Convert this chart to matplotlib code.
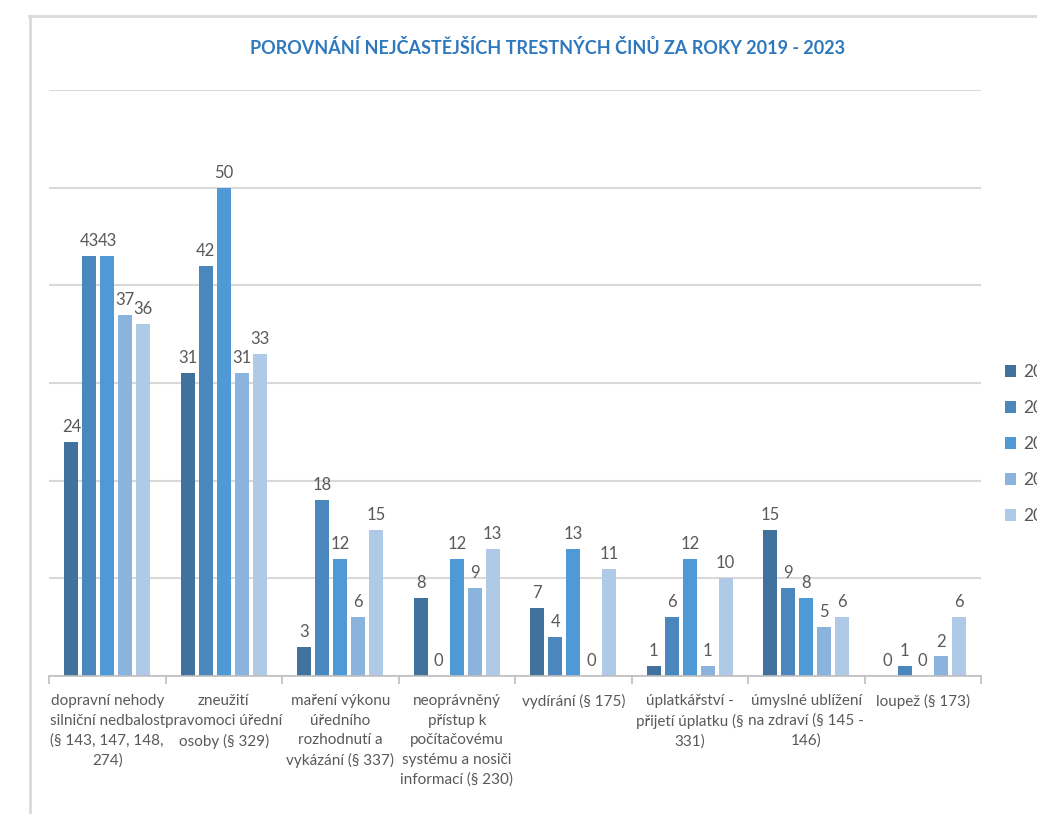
import matplotlib
matplotlib.use("Agg")
import matplotlib.pyplot as plt
from matplotlib.lines import Line2D
import numpy as np

categories = [
    "dopravní nehody\nsilniční nedbalost\n(§ 143, 147, 148,\n274)",
    "zneužití\npravomoci úřední\nosoby (§ 329)",
    "maření výkonu\núředního\nrozhodnutí a\nvykázání (§ 337)",
    "neoprávněný\npřístup k\npočítačovému\nsystému a nosiči\ninformací (§ 230)",
    "vydírání (§ 175)",
    "úplatkářství -\npřijetí úplatku (§\n331)",
    "úmyslné ublížení\nna zdraví (§ 145 -\n146)",
    "loupež (§ 173)",
]
years = ["2019", "2020", "2021", "2022", "2023"]
v2019 = [24, 31, 3, 8, 7, 1, 15, 0]
v2020 = [43, 42, 18, 0, 4, 6, 9, 1]
v2021 = [43, 50, 12, 12, 13, 12, 8, 0]
v2022 = [37, 31, 6, 9, 0, 1, 5, 2]
v2023 = [36, 33, 15, 13, 11, 10, 6, 6]
series = [v2019, v2020, v2021, v2022, v2023]
colors = ["#41729E", "#4A87BD", "#4F9AD6", "#8AB3DE", "#AFCAE7"]

FONT = ["Lato", "DejaVu Sans"]
plt.rcParams["font.family"] = FONT

W, H = 1037, 814
fig = plt.figure(figsize=(W / 100, H / 100), dpi=100)
ax = fig.add_axes([49 / W, (H - 676) / H, (981 - 49) / W, (676 - 90) / H])

x = np.arange(len(categories))
pitch = 0.154
bw = 0.12
txt = "#595959"
for i, (vals, c, yr) in enumerate(zip(series, colors, years)):
    pos = x + (i - 2) * pitch
    ax.bar(pos, vals, width=bw, color=c, label=yr, zorder=3)
    for p, v in zip(pos, vals):
        ax.annotate(str(v), (p, v), xytext=(0, 5), textcoords="offset points",
                    ha="center", va="bottom", fontsize=12, color=txt)

ax.set_xlim(-0.5, len(categories) - 0.5)
ax.set_ylim(0, 60)
ax.set_yticks(np.arange(0, 61, 10))
ax.yaxis.grid(True, color="#D9D9D9", linewidth=1.5, zorder=0)
ax.tick_params(axis="y", left=False, labelleft=False)
for s in ["top", "right", "left"]:
    ax.spines[s].set_visible(False)
ax.spines["bottom"].set_color("#BFBFBF")
ax.spines["bottom"].set_linewidth(1.2)
ax.spines["bottom"].set_zorder(4)

ax.set_xticks(np.arange(-0.5, len(categories)), minor=False)
ax.set_xticklabels([])
ax.tick_params(axis="x", which="major", length=6, color="#BFBFBF", width=1.2)
ax.set_xticks(x, minor=True)
ax.set_xticklabels(categories, minor=True, fontsize=11, color=txt,
                   linespacing=1.5, va="top", ha="center")
ax.tick_params(axis="x", which="minor", length=0, pad=13)

fig.text(548 / W, 1 - 48 / H, "POROVNÁNÍ NEJČASTĚJŠÍCH TRESTNÝCH ČINŮ ZA ROKY 2019 - 2023",
         ha="center", va="center", fontsize=13, fontweight="bold", color="#2E78BD")

leg = fig.legend(loc="upper left", bbox_to_anchor=(998 / W, 1 - 357 / H),
                 frameon=False, labelspacing=1.15,
                 handlelength=0.65, handleheight=0.65, handletextpad=0.4,
                 borderaxespad=0, prop={"size": 12.5})
for t in leg.get_texts():
    t.set_color(txt)

fig.add_artist(Line2D([29.5 / W, 29.5 / W], [0, 1 - 16 / H], transform=fig.transFigure,
                      color="#D9D9D9", linewidth=2))
fig.add_artist(Line2D([29 / W, 1], [1 - 16 / H, 1 - 16 / H], transform=fig.transFigure,
                      color="#D9D9D9", linewidth=2))

fig.savefig("out.png", dpi=100)
